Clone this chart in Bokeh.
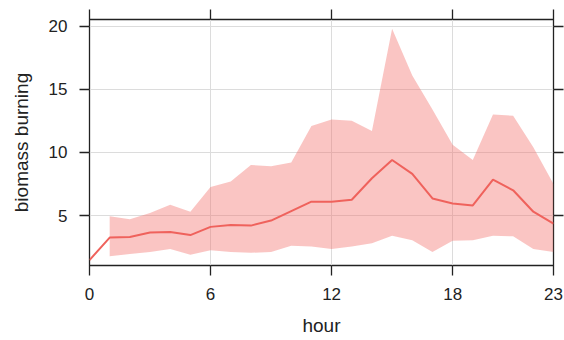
from bokeh.plotting import figure
from bokeh.models import Range1d, LinearAxis, FixedTicker, CustomJSTickFormatter
from bokeh.embed import file_html
from bokeh.resources import INLINE

hours = list(range(24))
mean_vals = [1.47, 3.25, 3.3, 3.65, 3.7, 3.45, 4.1, 4.25, 4.2, 4.6, 5.35, 6.1, 6.1,
             6.25, 7.95, 9.4, 8.3, 6.35, 5.95, 5.8, 7.85, 7.0, 5.3, 4.35]
band_hours = list(range(1, 24))
upper_vals = [4.95, 4.7, 5.2, 5.85, 5.3, 7.25, 7.7, 9.0, 8.9, 9.2, 12.1, 12.6,
              12.5, 11.7, 19.8, 16.1, 13.4, 10.6, 9.4, 13.0, 12.9, 10.4, 7.5]
lower_vals = [1.77, 1.95, 2.1, 2.35, 1.9, 2.25, 2.1, 2.05, 2.1, 2.6, 2.55, 2.35,
              2.55, 2.8, 3.4, 3.05, 2.1, 3.0, 3.05, 3.4, 3.35, 2.35, 2.1]
x_ticks = [0, 6, 12, 18, 23]
y_ticks = [5, 10, 15, 20]

FONT = "Liberation Sans"

p = figure(width=564, height=340, output_backend="svg", toolbar_location=None,
           x_range=Range1d(0, 23), y_range=Range1d(1.04, 20.53),
           min_border_left=89, min_border_right=11, min_border_top=19,
           min_border_bottom=75, x_axis_label="hour", y_axis_label="biomass burning")
p.background_fill_color = "white"
p.border_fill_color = "white"
p.outline_line_color = "#222222"
p.outline_line_width = 1.3

p.xgrid.ticker = FixedTicker(ticks=x_ticks)
p.ygrid.ticker = FixedTicker(ticks=y_ticks)
for g in (p.xgrid[0], p.ygrid[0]):
    g.grid_line_color = "#dcdcdc"
    g.grid_line_width = 1

p.varea(x=band_hours, y1=lower_vals, y2=upper_vals, fill_color="#F26E6A", fill_alpha=0.4)
p.line(x=hours, y=mean_vals, line_color="#EF625C", line_width=2)

def style(ax, labels=True, out=10):
    ax.axis_line_color = None
    ax.major_tick_line_color = "#222222"
    ax.major_tick_line_width = 1.3
    ax.major_tick_out = out
    ax.major_tick_in = 0
    ax.minor_tick_line_color = None
    if labels:
        ax.major_label_text_font = FONT
        ax.major_label_text_font_size = "17px"
        ax.major_label_text_color = "#222222"
        ax.major_label_standoff = 12
        ax.axis_label_text_font = FONT
        ax.axis_label_text_font_size = "19px"
        ax.axis_label_text_font_style = "normal"
        ax.axis_label_text_color = "#222222"
    else:
        ax.formatter = CustomJSTickFormatter(code="return ''")
        ax.major_label_standoff = 0

xa = p.xaxis[0]
xa.ticker = FixedTicker(ticks=x_ticks)
style(xa)
xa.axis_label_standoff = 12
ya = p.yaxis[0]
ya.ticker = FixedTicker(ticks=y_ticks)
style(ya)
ya.axis_label_standoff = 14

top = LinearAxis(ticker=FixedTicker(ticks=x_ticks))
style(top, labels=False, out=10)
p.add_layout(top, "above")
right = LinearAxis(ticker=FixedTicker(ticks=y_ticks))
style(right, labels=False, out=10)
p.add_layout(right, "right")

open("out.html", "w").write(file_html(p, INLINE))
